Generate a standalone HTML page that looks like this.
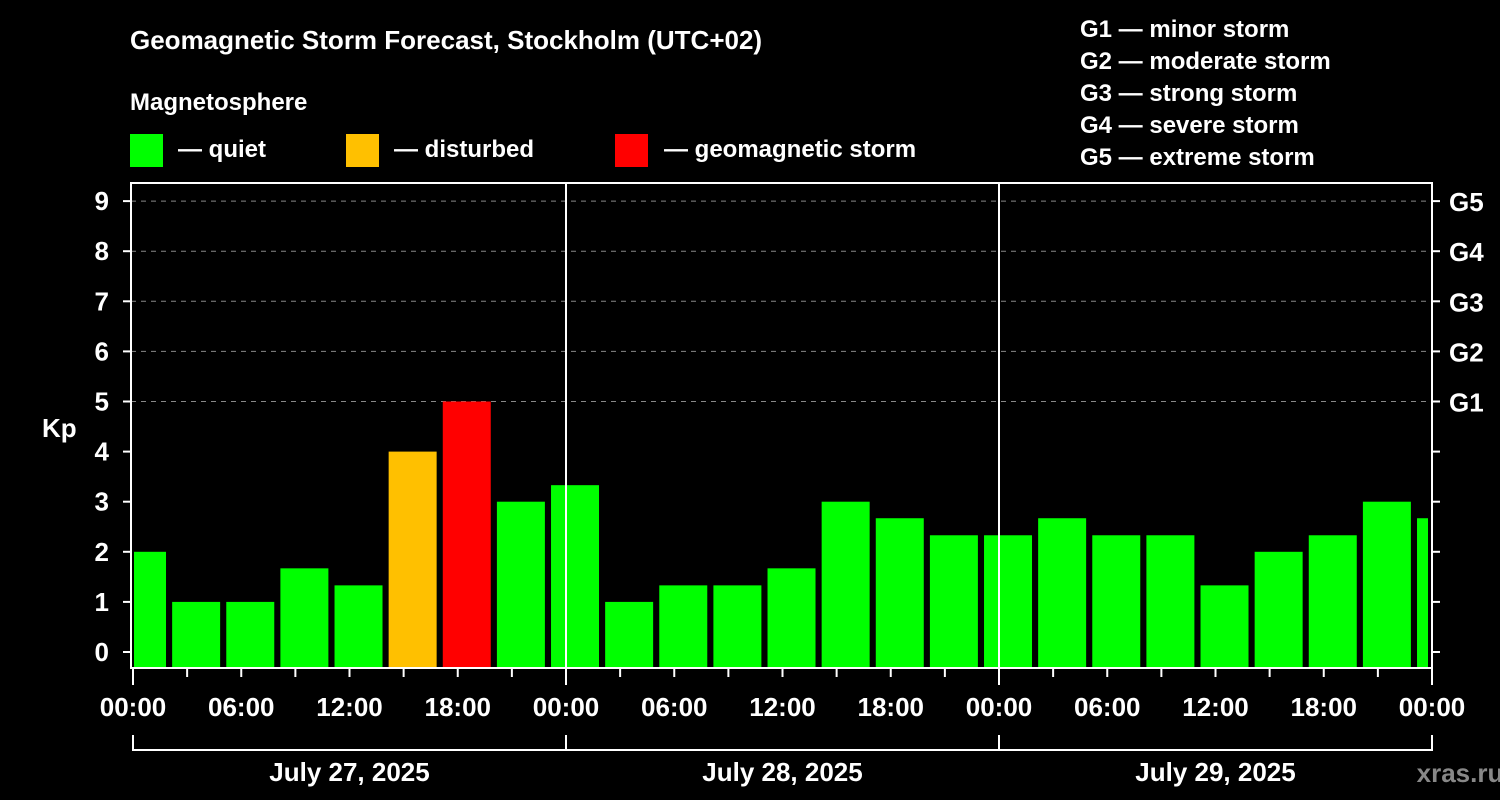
<!DOCTYPE html>
<html><head><meta charset="utf-8"><style>
body{margin:0;background:#000;}
svg{display:block;font-family:"Liberation Sans",sans-serif;font-weight:bold;}
</style></head><body>
<svg id="chart" width="1500" height="800" viewBox="0 0 1500 800">
<rect x="0" y="0" width="1500" height="800" fill="#000"/>
<text x="130" y="49" fill="#fff" font-size="26">Geomagnetic Storm Forecast, Stockholm (UTC+02)</text>
<text x="130" y="110" fill="#fff" font-size="24">Magnetosphere</text>
<g>
<rect x="130" y="134" width="33" height="33" fill="#00ff00"/>
<text x="178" y="157" fill="#fff" font-size="24">— quiet</text>
<rect x="346" y="134" width="33" height="33" fill="#ffc000"/>
<text x="394" y="157" fill="#fff" font-size="24">— disturbed</text>
<rect x="615" y="134" width="33" height="33" fill="#ff0000"/>
<text x="664" y="157" fill="#fff" font-size="24">— geomagnetic storm</text>
</g>
<g fill="#fff" font-size="24">
<text x="1080" y="37">G1 — minor storm</text>
<text x="1080" y="69">G2 — moderate storm</text>
<text x="1080" y="101">G3 — strong storm</text>
<text x="1080" y="133">G4 — severe storm</text>
<text x="1080" y="165">G5 — extreme storm</text>
</g>
<text x="42" y="437" fill="#fff" font-size="26">Kp</text>
<text x="1460" y="782" fill="#888" font-size="26" text-anchor="middle">xras.ru</text>
<g id="grid"></g>
<g id="bars"></g>
<g id="axes"></g>
</svg>
<script>
const kpValues=[2,1,1,1.67,1.33,4,5,3,3.33,1,1.33,1.33,1.67,3,2.67,2.33,2.33,2.67,2.33,2.33,1.33,2,2.33,3,2.67];
const yTicks=[0,1,2,3,4,5,6,7,8,9];
const gLabels=["G1","G2","G3","G4","G5"];
const gLevels=[5,6,7,8,9];
const timeLabels=["00:00","06:00","12:00","18:00","00:00","06:00","12:00","18:00","00:00","06:00","12:00","18:00","00:00"];
const dayLabels=["July 27, 2025","July 28, 2025","July 29, 2025"];

const L=131,R=1432,T=183,B=668;
const xs=h=>L+2+h*(R-L-2)/72;
const ys=v=>652-v*50.1;
const NS="http://www.w3.org/2000/svg";
function mk(tag,attrs,parent){const e=document.createElementNS(NS,tag);for(const k in attrs)e.setAttribute(k,attrs[k]);document.getElementById(parent).appendChild(e);return e;}
function col(v){return v>=5?"#ff0000":(v>=4?"#ffc000":"#00ff00");}

// gridlines
gLevels.forEach(v=>{
 const g=mk("line",{x1:L,x2:R,y1:ys(v),y2:ys(v),stroke:"#888","stroke-width":1,"stroke-dasharray":"5,5"},"grid");
 
 
});
// bars
kpValues.forEach((v,i)=>{
 const c=0.5+3*i;
 let x1=xs(c-1.33),x2=xs(c+1.33);
 x1=Math.max(x1,L+3);x2=Math.min(x2,R-4);
 if(x2<=x1)return;
 const r=mk("rect",{x:x1,y:ys(v),width:x2-x1,height:B-ys(v),fill:col(v)},"bars");
 
 
});
// day separators
[24,48].forEach(h=>{
 const l=mk("line",{x1:xs(h),x2:xs(h),y1:T,y2:B,stroke:"#fff","stroke-width":2},"axes");
 
 
});
// frame
const f=mk("rect",{x:L,y:T,width:R-L,height:B-T,fill:"none",stroke:"#fff","stroke-width":2},"axes");


// y ticks
yTicks.forEach(v=>{
 const t=mk("line",{x1:L-8,x2:L,y1:ys(v),y2:ys(v),stroke:"#fff","stroke-width":2},"axes");
 
 
 const t2=mk("line",{x1:R,x2:R+8,y1:ys(v),y2:ys(v),stroke:"#fff","stroke-width":2},"axes");
 
 
 const tx=mk("text",{x:L-22,y:ys(v)+9,fill:"#fff","font-size":26,"text-anchor":"end"},"axes");
 tx.textContent=v;
 
 
});
gLabels.forEach((g,i)=>{
 const tx=mk("text",{x:R+17,y:ys(gLevels[i])+10,fill:"#fff","font-size":26},"axes");
 tx.textContent=g;
 
 
});
// x ticks
for(let h=0;h<=72;h+=3){
 const big=h%24===0;
 const t=mk("line",{x1:xs(h),x2:xs(h),y1:B,y2:B+(big?17:9),stroke:"#fff","stroke-width":2},"axes");
 
 
}
timeLabels.forEach((s,i)=>{
 const tx=mk("text",{x:xs(i*6),y:716,fill:"#fff","font-size":26,"text-anchor":"middle"},"axes");
 tx.textContent=s;
 
 
});
// day bracket
const br=mk("polyline",{points:`${xs(0)},735 ${xs(0)},750 ${xs(72)},750 ${xs(72)},735`,fill:"none",stroke:"#fff","stroke-width":2},"axes");


[24,48].forEach(h=>{
 const l=mk("line",{x1:xs(h),x2:xs(h),y1:735,y2:750,stroke:"#fff","stroke-width":2},"axes");
 
 
});
dayLabels.forEach((d,i)=>{
 const tx=mk("text",{x:xs(12+24*i),y:781,fill:"#fff","font-size":26,"text-anchor":"middle"},"axes");
 tx.textContent=d;
 
 
});
</script>
</body></html>
